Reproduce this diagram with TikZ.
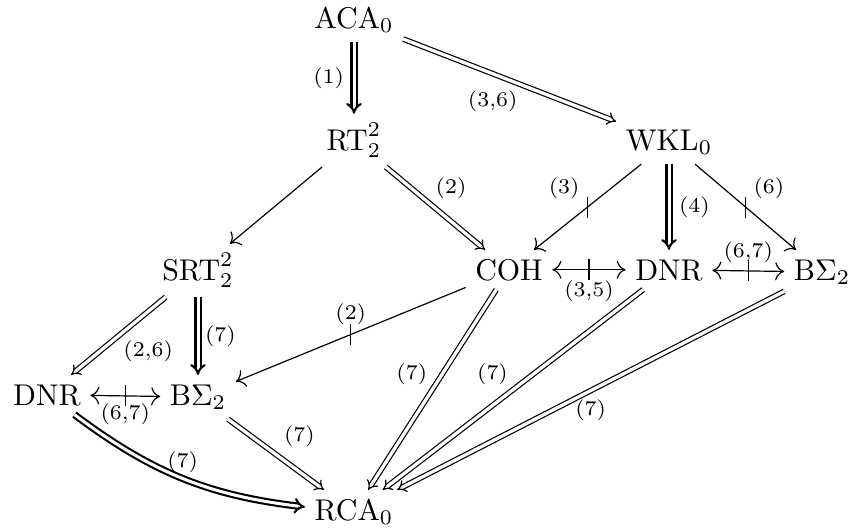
\documentclass[tikz,border=0pt]{standalone}
\usetikzlibrary{arrows.meta}
\newcommand{\nbar}{\rule[-3.5pt]{.4pt}{7pt}}
\tikzset{
  thm/.style={anchor=base, inner sep=3pt},
  lbl/.style={font=\scriptsize, inner sep=1.5pt},
  bar/.style={inner sep=0pt},
  imp/.style={double, double distance=1.1pt, line width=.4pt, -Implies},
  strongimp/.style={double, double distance=1pt, line width=.7pt, -Implies},
  weak/.style={-{Computer Modern Rightarrow[length=3pt,width=6pt]}},
  both/.style={{Computer Modern Rightarrow[length=3pt,width=6pt]}-{Computer Modern Rightarrow[length=3pt,width=6pt]}}
}
\begin{document}
\begin{tikzpicture}[x=.3333pt,y=.3333pt]
  \useasboundingbox (0,0) rectangle (850,-531);
  % the systems
  \node[thm] (aca) at (354,-28) {$\mathrm{ACA}_0$};
  \node[thm] (rt) at (354,-150) {$\mathrm{RT}^2_2$};
  \node[thm] (wkl) at (669,-150) {$\mathrm{WKL}_0$};
  \node[thm] (srt) at (198,-280) {$\mathrm{SRT}^2_2$};
  \node[thm] (coh) at (509,-280) {$\mathrm{COH}$};
  \node[thm] (dnrr) at (669,-280) {$\mathrm{DNR}$};
  \node[thm] (bsr) at (822,-280) {$\mathrm{B}\Sigma_2$};
  \node[thm] (dnrl) at (47,-405) {$\mathrm{DNR}$};
  \node[thm] (bsl) at (198,-405) {$\mathrm{B}\Sigma_2$};
  \node[thm] (rca) at (354,-520) {$\mathrm{RCA}_0$};
  % implications
  \draw[strongimp] (aca) -- node[lbl,left=1.5pt] {(1)} (rt);
  \draw[imp] (aca) -- node[lbl,pos=.56,anchor=north east] {(3,6)} (wkl);
  \draw[weak] (rt) -- (srt);
  \draw[imp] (rt) -- node[lbl,pos=.45,anchor=south west] {(2)} (coh);
  \draw[weak] (wkl) -- node[bar] {\nbar} node[lbl,above left=1pt] {(3)} (coh);
  \draw[strongimp] (wkl) -- node[lbl,right=1.5pt] {(4)} (dnrr);
  \draw[weak] (wkl) -- node[bar] {\nbar} node[lbl,above right=1pt] {(6)} (bsr);
  \draw[both] (coh) -- node[bar] {\nbar} node[lbl,below=2pt] {(3,5)} (dnrr);
  \draw[both] (dnrr) -- node[bar] {\nbar} node[lbl,above=1pt] {(6,7)} (bsr);
  \draw[imp] (srt) -- node[lbl,below right] {(2,6)} (dnrl);
  \draw[strongimp] (srt) -- node[lbl,right=.5pt] {(7)} (bsl);
  \draw[weak] (coh) -- node[bar] {\nbar} node[lbl,above=1.5pt] {(2)} (bsl);
  \draw[both] (dnrl) -- node[bar] {\nbar} node[lbl,below=1pt] {(6,7)} (bsl);
  % down to RCA_0
  \draw[imp] (coh) -- node[lbl,above left] {(7)} (rca);
  \draw[imp] (dnrr) -- node[lbl,above left] {(7)} (rca);
  \draw[imp] (bsr) -- node[lbl,below=1.5pt] {(7)} (rca);
  \draw[imp] (bsl) -- node[lbl,above right=1pt] {(7)} (rca);
  \draw[strongimp] (dnrl) to[bend right=15] node[lbl,above] {(7)} (rca);
\end{tikzpicture}
\end{document}
